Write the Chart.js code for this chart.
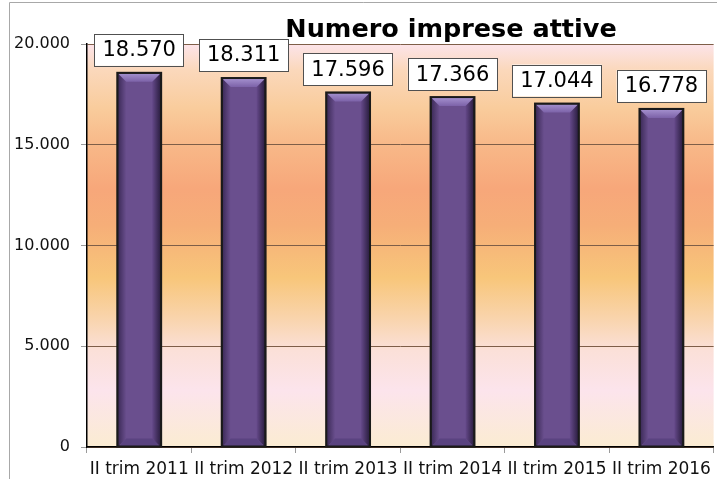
<!DOCTYPE html>
<html>
<head>
<meta charset="utf-8">
<script src="https://cdn.jsdelivr.net/npm/chart.js@4.4.0/dist/chart.umd.min.js"></script>
<style>
    html, body { margin: 0; padding: 0; background: #fff; }
    #wrap { width: 717px; height: 479px; }
</style>
</head>
<body>
<div id="wrap"><canvas id="chart" width="717" height="479"></canvas></div>
<script>
const categories = ['II trim 2011', 'II trim 2012', 'II trim 2013', 'II trim 2014', 'II trim 2015', 'II trim 2016'];
const impreseAttive = [18570, 18311, 17596, 17366, 17044, 16778];
const yTicks = [0, 5000, 10000, 15000, 20000];
const chartTitle = 'Numero imprese attive';

// 18570 -> "18.570"
const fmt = n => String(n).replace(/\B(?=(\d{3})+(?!\d))/g, '.');

// frame lines + gradient behind the plot
const backgroundPlugin = {
    id: 'background',
    beforeDraw(chart) {
        const ctx = chart.ctx;
        const a = chart.chartArea;
        ctx.save();
        ctx.strokeStyle = '#a8a8a8';
        ctx.lineWidth = 1;
        ctx.beginPath();
        ctx.moveTo(9.5, 479);
        ctx.lineTo(9.5, 2.5);
        ctx.lineTo(717, 2.5);
        ctx.stroke();

        const g = ctx.createLinearGradient(0, a.top, 0, a.bottom);
        g.addColorStop(0, '#fce4ea');
        g.addColorStop(0.065, '#fbd8bb');
        g.addColorStop(0.16, '#f9cc9c');
        g.addColorStop(0.25, '#f8b888');
        g.addColorStop(0.36, '#f7a77a');
        g.addColorStop(0.45, '#f6ae78');
        g.addColorStop(0.58, '#f8c67a');
        g.addColorStop(0.68, '#f9d4ac');
        g.addColorStop(0.76, '#fbe0d8');
        g.addColorStop(0.86, '#fce4ec');
        g.addColorStop(1, '#fbecd2');
        ctx.fillStyle = g;
        ctx.fillRect(a.left, a.top, a.right - a.left, a.bottom - a.top);
        ctx.restore();
    }
};

// bevelled look of the bars, then value boxes above them
const barDecorPlugin = {
    id: 'barDecor',
    afterDatasetsDraw(chart) {
        const ctx = chart.ctx;
        const meta = chart.getDatasetMeta(0);
        ctx.save();
        meta.data.forEach((bar, i) => {
            const L = bar.x - bar.width / 2 + 1;
            const R = bar.x + bar.width / 2 - 1;
            const T = bar.y + 1;
            const B = bar.base;
            const b = 8;

            // left side
            let g = ctx.createLinearGradient(L, 0, L + b, 0);
            g.addColorStop(0, '#3e2c5a');
            g.addColorStop(1, '#6a4f8e');
            ctx.fillStyle = g;
            ctx.beginPath();
            ctx.moveTo(L, T); ctx.lineTo(L + b, T + b); ctx.lineTo(L + b, B - b); ctx.lineTo(L, B);
            ctx.closePath(); ctx.fill();

            // right side
            g = ctx.createLinearGradient(R - b, 0, R, 0);
            g.addColorStop(0, '#65498a');
            g.addColorStop(1, '#2e2044');
            ctx.fillStyle = g;
            ctx.beginPath();
            ctx.moveTo(R, T); ctx.lineTo(R - b, T + b); ctx.lineTo(R - b, B - b); ctx.lineTo(R, B);
            ctx.closePath(); ctx.fill();

            // top bevel
            g = ctx.createLinearGradient(0, T, 0, T + b);
            g.addColorStop(0, '#a28ecc');
            g.addColorStop(1, '#7c62a8');
            ctx.fillStyle = g;
            ctx.beginPath();
            ctx.moveTo(L, T); ctx.lineTo(R, T); ctx.lineTo(R - b, T + b); ctx.lineTo(L + b, T + b);
            ctx.closePath(); ctx.fill();

            // bottom bevel
            ctx.fillStyle = '#5a4380';
            ctx.beginPath();
            ctx.moveTo(L, B); ctx.lineTo(R, B); ctx.lineTo(R - b, B - b); ctx.lineTo(L + b, B - b);
            ctx.closePath(); ctx.fill();

            // outline again
            ctx.strokeStyle = '#1a1a1a';
            ctx.lineWidth = 2;
            ctx.strokeRect(bar.x - bar.width / 2, bar.y, bar.width, bar.base - bar.y);

            // value box
            const txt = fmt(impreseAttive[i]);
            ctx.font = '21px "DejaVu Sans"';
            const tw = ctx.measureText(txt).width;
            const bw = tw + 16;
            const bh = 32;
            const bx = bar.x - bw / 2;
            const by = bar.y - 7 - bh;
            ctx.fillStyle = '#ffffff';
            ctx.fillRect(bx, by, bw, bh);
            ctx.strokeStyle = '#505050';
            ctx.lineWidth = 1;
            ctx.strokeRect(Math.round(bx) + 0.5, Math.round(by) + 0.5, Math.round(bw), bh);
            ctx.fillStyle = '#000';
            ctx.textAlign = 'center';
            ctx.textBaseline = 'middle';
            ctx.fillText(txt, bar.x, by + bh / 2 + 1);
        });
        ctx.restore();
    }
};

const titlePlugin = {
    id: 'titleText',
    afterDraw(chart) {
        const ctx = chart.ctx;
        ctx.save();
        ctx.font = 'bold 25.5px "DejaVu Sans"';
        ctx.fillStyle = '#000';
        ctx.textAlign = 'center';
        ctx.textBaseline = 'alphabetic';
        ctx.fillText(chartTitle, 451, 37);
        ctx.restore();
    }
};

new Chart(document.getElementById('chart'), {
    type: 'bar',
    data: {
        labels: categories,
        datasets: [{
            label: chartTitle,
            data: impreseAttive,
            backgroundColor: '#6a4f8e',
            borderColor: '#1a1a1a',
            borderWidth: 2,
            borderSkipped: false,
            categoryPercentage: 1,
            barPercentage: 0.42
        }]
    },
    options: {
        responsive: false,
        animation: false,
        devicePixelRatio: 1,
        layout: { padding: { top: 44, right: 1, left: 0, bottom: 0 } },
        plugins: {
            legend: { display: false },
            title: { display: false },
            tooltip: { enabled: false }
        },
        scales: {
            x: {
                grid: {
                    offset: true,
                    drawOnChartArea: false,
                    drawTicks: true,
                    tickLength: 6,
                    tickColor: '#9a9a9a'
                },
                border: { color: '#000', width: 1.5 },
                ticks: {
                    color: '#111',
                    font: { family: 'DejaVu Sans', size: 17 },
                    padding: 6,
                    autoSkip: false,
                    maxRotation: 0
                },
                afterFit(scale) { scale.height = 32; }
            },
            y: {
                min: 0,
                max: 20000,
                afterBuildTicks(scale) {
                    scale.ticks = yTicks.map(v => ({ value: v }));
                },
                grid: {
                    color: '#7e5e48',
                    tickColor: '#9a9a9a',
                    tickLength: 6
                },
                border: { color: '#000', width: 1.5 },
                ticks: {
                    color: '#111',
                    font: { family: 'DejaVu Sans', size: 16 },
                    padding: 11,
                    callback: v => fmt(v)
                },
                afterFit(scale) { scale.width = 87; }
            }
        }
    },
    plugins: [backgroundPlugin, barDecorPlugin, titlePlugin]
});
</script>
</body>
</html>
